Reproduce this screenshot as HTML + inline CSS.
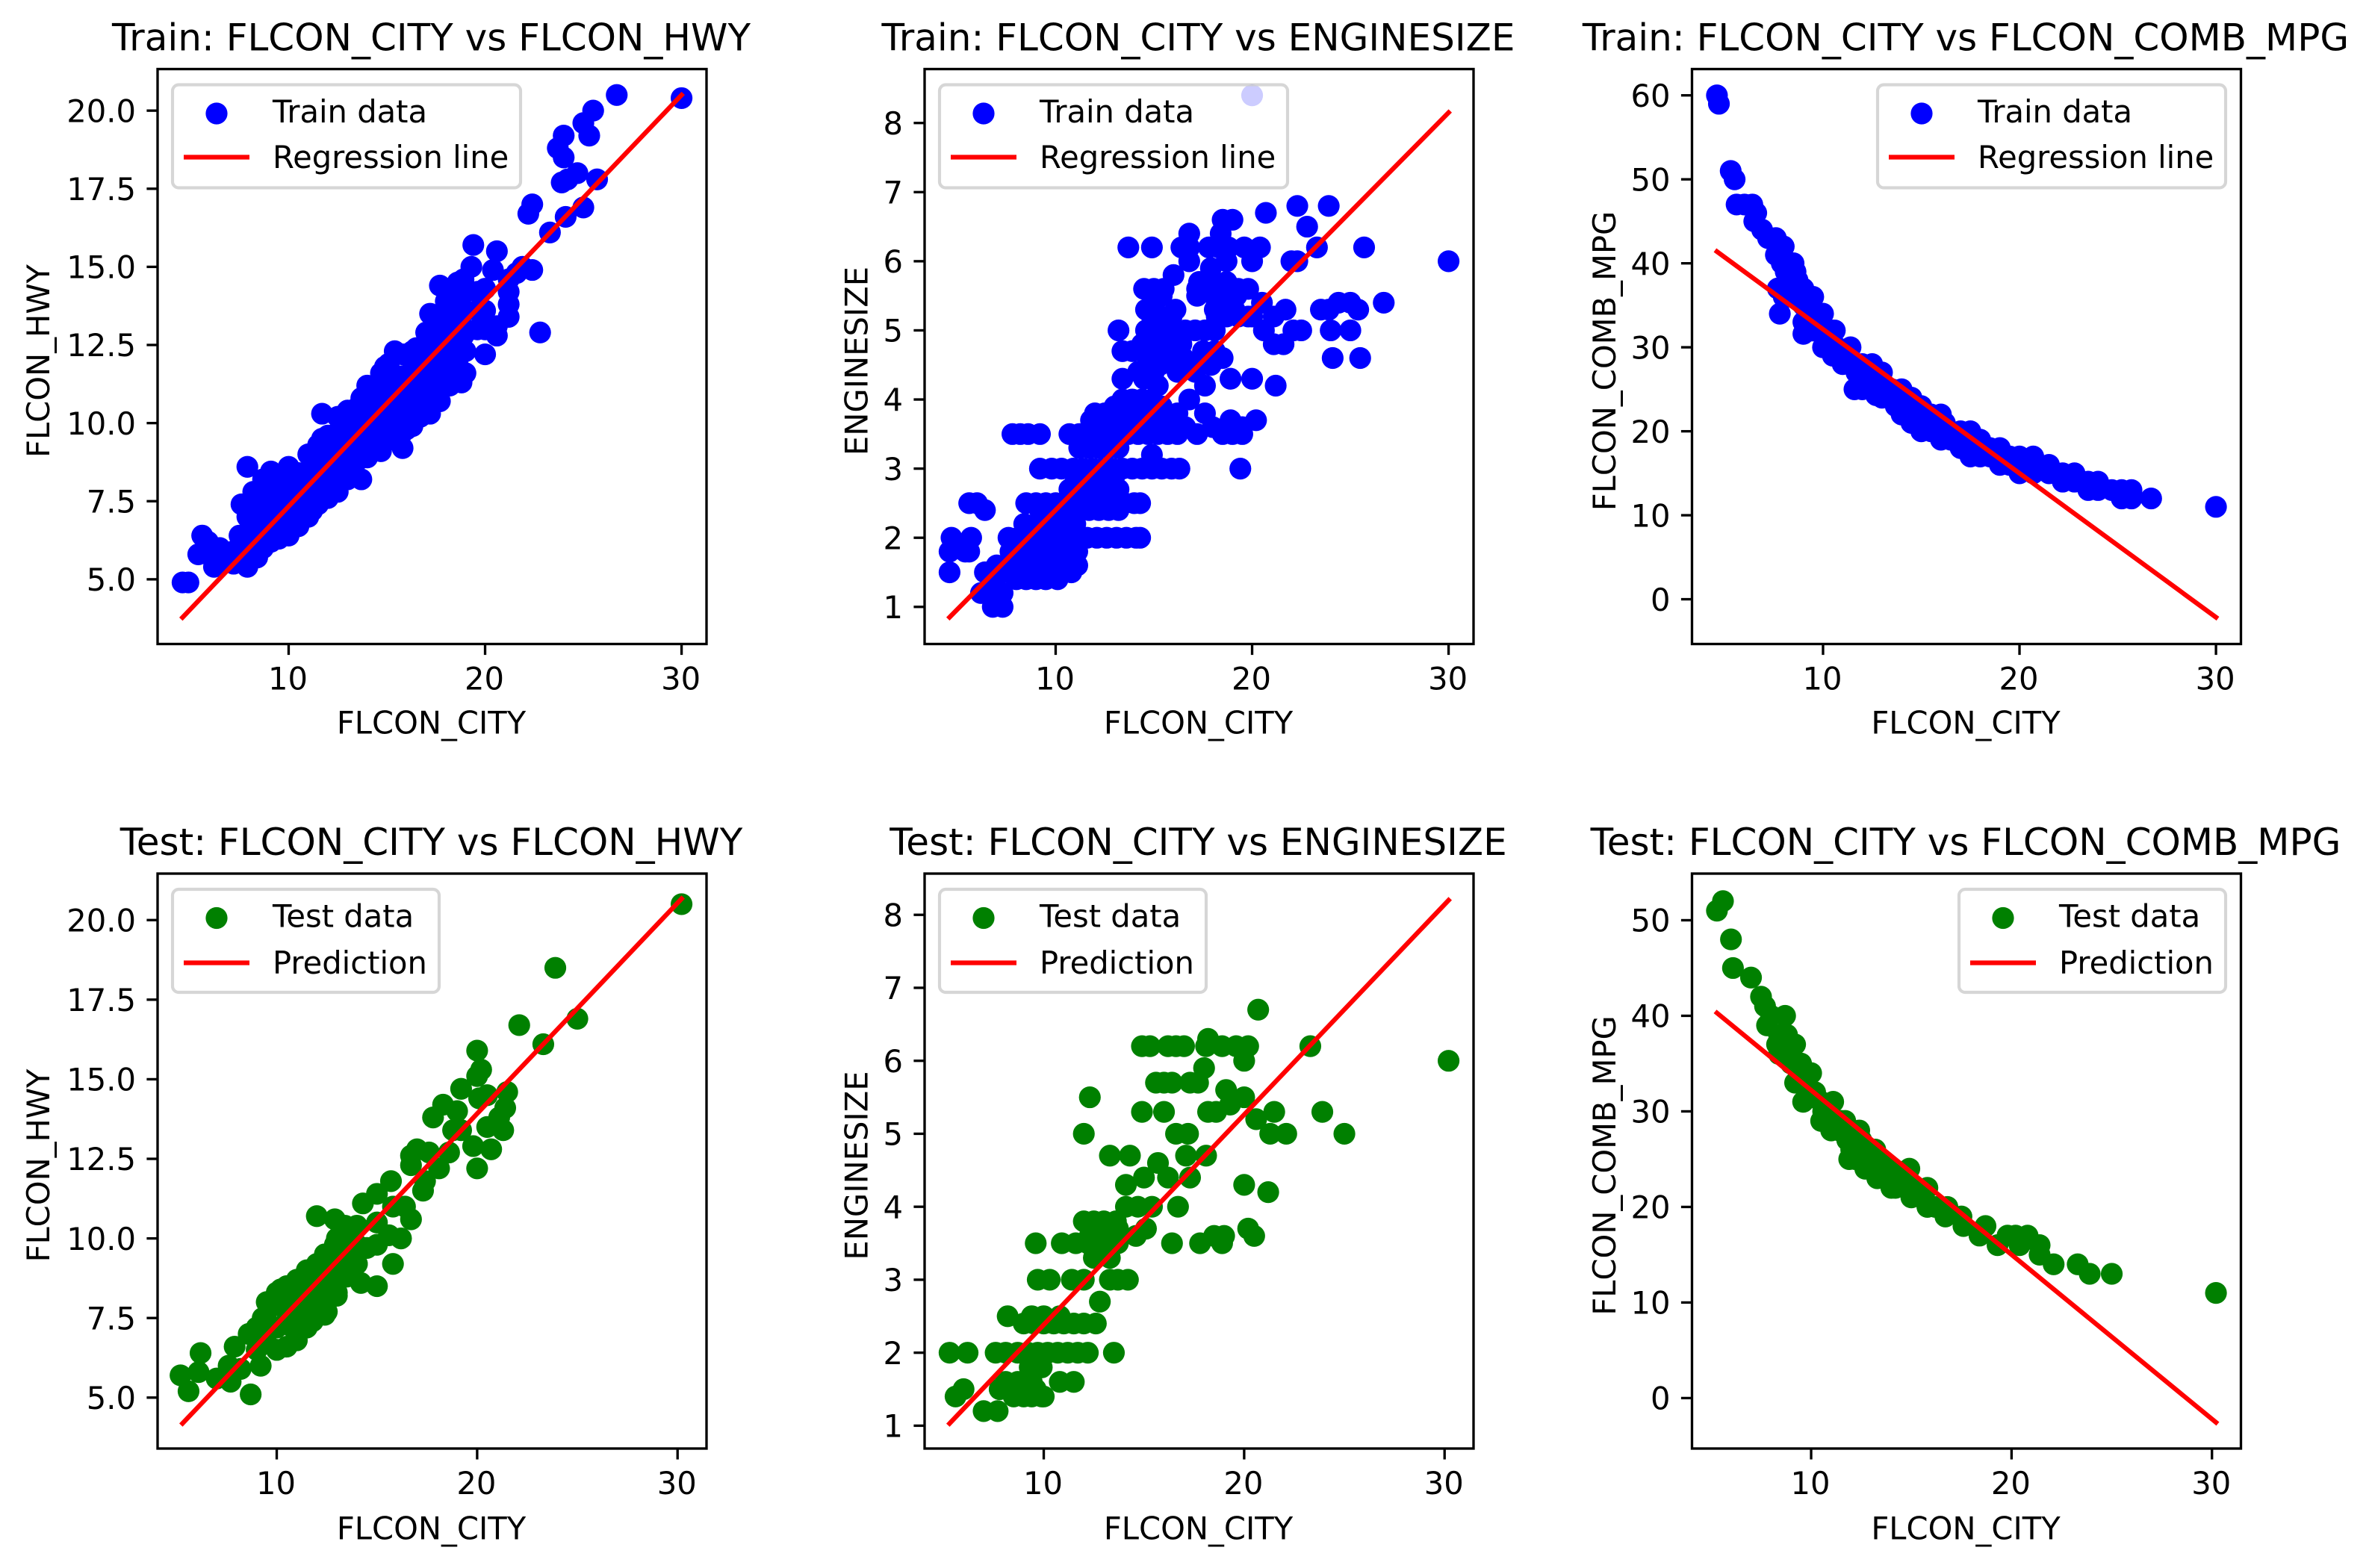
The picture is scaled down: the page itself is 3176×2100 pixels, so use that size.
<!DOCTYPE html>
<html lang="en">
<head>
<meta charset="utf-8">
<title>Regression charts: FLCON_CITY vs other features</title>
<style>
  html, body { margin: 0; padding: 0; background: #ffffff; }
  svg { display: block; font-family: "DejaVu Sans", "Liberation Sans", sans-serif; }
</style>
</head>
<body>
<svg id="figure" xmlns="http://www.w3.org/2000/svg" width="3176" height="2100" viewBox="0 0 3176 2100">
  <rect x="0" y="0" width="3176" height="2100" fill="#ffffff"></rect>
</svg>
<script>
/* ---------- axis domains and tick labels ---------- */
const trainCityLim = [3.33, 31.27];
const testCityLim = [4.055, 31.445];
const cityTicks = ['10', '20', '30'];

const trainHwyLim = [2.93, 21.33];
const trainEngineLim = [0.463, 8.78];
const trainMpgLim = [-5.33, 63.13];
const testHwyLim = [3.4, 21.46];
const testEngineLim = [0.687, 8.565];
const testMpgLim = [-5.28, 54.88];

const hwyTicks = ['5.0', '7.5', '10.0', '12.5', '15.0', '17.5', '20.0'];
const engineTicks = ['1', '2', '3', '4', '5', '6', '7', '8'];
const trainMpgTicks = ['0', '10', '20', '30', '40', '50', '60'];
const testMpgTicks = ['0', '10', '20', '30', '40', '50'];

/* ---------- regression lines ---------- */
const trainLineCity = [4.6, 30];
const testLineCity = [5.3, 30.2];
const trainHwyLine = [3.78, 20.5];
const trainEngineLine = [0.85, 8.15];
const trainMpgLine = [41.4, -2.15];
const testHwyLine = [4.19, 20.67];
const testEngineLine = [1.03, 8.2];
const testMpgLine = [40.3, -2.54];

/* ---------- train: FLCON_CITY vs FLCON_HWY ---------- */
const trainHwyCity = [
  4.6,4.9,5.4,5.6,5.9,5.9,6.5,6.2,6.8,
  7.2,7.2,7.6,7.5,7.5,7.9,7.9,7.9,7.9,
  8.4,8.4,8.4,8.4,8.7,8.7,8.7,8.7,9.1,9.1,9.1,9.1,
  9.5,9.5,9.5,9.5,10,10,10,10,10,
  10.5,10.5,10.5,10.5,11,11,11,11,
  11.5,11.5,11.5,11.5,12,12,12,12,11.7,
  12.5,12.5,12.5,12.5,12.5,13,13,13,13,13,13.7,13.5,13.5,13.5,
  14,14,14,14,14,14.7,14.7,14.7,14.7,14.7,
  15.1,15.1,15.1,15.1,15.1,15.8,15.8,15.8,15.8,15.8,15.8,
  16.3,16.3,16.3,16.3,16.3,16.7,16.7,16.7,16.7,
  17.2,17.2,17.2,17.2,17.2,17.2,17.7,17.7,17.7,17.7,17.7,17.7,
  18.2,18.2,18.2,18.2,18.2,18.6,18.6,18.6,18.6,18.6,
  18.8,19,19,19,19,19,19.3,19.4,19.6,19.6,19.6,
  20,20,20,20,20.4,20.6,20.6,20.6,21.2,21.2,21.2,21.2,21.6,
  21.9,22.4,22.8,22.2,22.4,23.3,23.9,24.2,24.7,24.1,25,25.7,
  24,23.7,24,25.3,25,25.5,26.7,30,
  8.2,8.2,8.2,8.9,8.9,8.9,9.3,9.3,9.3,9.8,9.8,9.8,
  10.2,10.2,10.2,10.8,10.8,10.8,11.2,11.2,11.2,11.7,11.7,11.7,
  12.2,12.2,12.2,12.7,12.7,12.7,13.2,13.2,13.2,13.7,13.7,13.7,
  14.3,14.3,14.3,14.9,14.9,14.9,15.4,15.4,15.4,16,16,16,
  16.5,16.5,16.5,17,17,17,17.5,17.5,17.5,18,18,18,
  18.4,18.4,18.4,18.9,18.9,18.9
];
const trainHwyValues = [
  4.9,4.9,5.8,6.4,6.2,5.8,6.0,5.4,5.6,
  5.5,5.9,7.4,5.6,6.4,5.4,6.2,7.0,8.6,
  5.7,6.5,7.1,7.6,6.0,6.9,7.6,8.2,6.2,6.9,7.5,8.45,
  6.3,7,7.6,8.2,6.4,7,7.6,8.2,8.6,
  6.7,7.2,7.8,8.4,7.0,7.6,8.3,9.0,
  7.4,8,8.6,9.3,7.6,8.2,8.9,9.6,10.3,
  7.8,8.4,9,9.7,10.2,8.2,8.7,9.3,9.9,10.4,8.2,8.8,9.6,10.5,
  8.9,9.5,10.1,10.7,11.2,9.1,9.7,10.3,10.9,11.6,
  9.5,10,10.6,11.3,11.9,9.2,9.7,10.3,10.9,11.5,12.2,
  9.9,10.5,11.1,11.7,12.3,10.2,10.9,11.5,12.1,
  10.3,11,11.6,12.2,12.8,13.5,10.7,11.3,11.9,12.5,13.2,14.4,
  11.2,11.8,12.4,13,13.6,12,12.6,13.2,13.8,14.5,
  11.3,11.6,12.3,13,13.6,14.2,15,15.7,13,13.6,14.2,
  12.2,13,13.6,14.3,14.9,12.8,13.1,15.5,13.4,13.8,14.2,14.6,14.8,
  15,14.9,12.9,16.7,17,16.1,17.7,17.8,18,16.6,16.9,17.8,
  18.5,18.8,19.2,19.2,19.6,20,20.5,20.4,
  6.6,7.2,7.8,6.4,7.2,7.9,6.6,7.3,7.9,6.6,7.3,8.0,
  6.8,7.5,8.4,7,7.6,8.4,7.2,7.9,8.8,7.6,8.4,9.5,
  8,8.7,9.4,8.2,9,9.8,8.5,9.2,10.1,8.9,9.6,10.8,
  9.3,10.2,11.1,9.4,10.5,11.8,9.6,10.8,12.3,9.8,11,12.2,
  10.3,11.3,12.4,10.5,11.5,12.9,10.9,12,13,11.4,12.2,13.9,
  11.5,12.8,14.1,11.6,12.8,14.6
];

/* ---------- train: FLCON_CITY vs ENGINESIZE ---------- */
const trainEngineCity = [
  6.8,7.3,
  6.2,7.3,
  6.9,
  8,8.5,9,9.5,10.1,
  4.6,6.4,7.3,7.8,8.3,8.8,9.3,9.8,
  7,7.6,8.1,8.6,9.1,9.6,10.1,10.6,11.1,
  4.6,5.4,5.6,7.7,8.2,8.7,9.2,9.7,10.2,10.7,11.1,
  8,9,10,
  4.7,5.7,7.6,8.1,8.6,9.1,9.6,10.1,10.6,11.1,11.6,12.1,12.6,13.1,13.6,14.1,14.3,
  8.4,9.5,
  6.4,9.2,9.7,10.2,10.7,11.2,11.7,12.2,12.7,13.2,
  5.6,6,8.5,9,9.5,10,10.5,11,11.5,12,12.5,13,13.5,14,14.3,
  10.7,11.2,11.7,12.2,12.7,13.2,
  9.2,9.8,10.3,10.9,11.4,11.9,12.4,12.9,13.4,13.9,14.4,14.9,15.4,15.9,16.3,19.4,
  14.9,
  11.2,11.7,12.2,12.7,13.2,
  7.8,8.2,8.6,9.2,10.7,11.2,11.7,12.2,12.7,13.2,13.7,14.2,14.7,15.2,15.7,16.2,17.2,18.5,19,19.5,
  16.6,18,19.5,
  11.8,12.3,12.8,13.3,15,18.9,20.2,
  12,12.5,13,13.5,14.5,16.2,17.6,
  13.4,13.9,14.4,14.9,16.8,
  15.2,17.6,21.2,
  13.4,14.5,18.9,20,
  14.2,14.7,15,16.2,17.1,
  15.5,16,16.5,17.6,18.5,24.1,25.5,
  13.4,13.9,14.4,15,15.5,16.1,17.5,18.1,
  21.1,21.6,
  13.2,14.6,15.1,15.6,16.1,16.6,17.1,17.6,18.1,20.6,22.1,22.5,24,25,
  20,21.1,
  14.6,16.1,18.1,18.6,19.1,21.7,23.5,23.9,25.4,
  15,18.2,20.5,24.4,25,26.7,
  15.4,17.2,18.4,
  14.5,15,15.5,17.2,17.7,18.7,19.3,19.8,
  17.3,18,18.7,
  16,
  17.9,
  16.8,18.7,20,22,22.3,30,
  13.7,14.9,16.4,16.8,17.8,18.3,18.8,19.6,20.4,23.3,25.7,
  16.8,18.4,
  22.8,
  18.5,19,
  20.7,
  22.3,23.9,
  20,
  7.8,8.3,8.8,9.3,9.8,10.3,10.8,
  10.3,10.8,
  9,10,10.5,11,
  11,11.5,12,12.5,13,
  13.8,14.3,15.5,15.9,
  13,14,14.7,15.4,
  14.4,14.9,15.4,15.9,16.4,
  14.8,15.3,17.4,17.9,
  14.9,15.4,15.9,18.2,18.7,19.3,19.8,
  18.8,19.2
];
const trainEngineValues = [
  1,1,
  1.2,1.2,
  1.3,
  1.4,1.4,1.4,1.4,1.4,
  1.5,1.5,1.5,1.5,1.5,1.5,1.5,1.5,
  1.6,1.6,1.6,1.6,1.6,1.6,1.6,1.6,1.6,
  1.8,1.8,1.8,1.8,1.8,1.8,1.8,1.8,1.8,1.8,1.8,
  1.9,1.9,1.9,
  2,2,2,2,2,2,2,2,2,2,2,2,2,2,2,2,2,
  2.2,2.2,
  2.4,2.4,2.4,2.4,2.4,2.4,2.4,2.4,2.4,2.4,
  2.5,2.5,2.5,2.5,2.5,2.5,2.5,2.5,2.5,2.5,2.5,2.5,2.5,2.5,2.5,
  2.7,2.7,2.7,2.7,2.7,2.7,
  3,3,3,3,3,3,3,3,3,3,3,3,3,3,3,3,
  3.2,
  3.3,3.3,3.3,3.3,3.3,
  3.5,3.5,3.5,3.5,3.5,3.5,3.5,3.5,3.5,3.5,3.5,3.5,3.5,3.5,3.5,3.5,3.5,3.5,3.5,3.5,
  3.6,3.6,3.6,
  3.7,3.7,3.7,3.7,3.7,3.7,3.7,
  3.8,3.8,3.8,3.8,3.8,3.8,3.8,
  4,4,4,4,4,
  4.2,4.2,4.2,
  4.3,4.3,4.3,4.3,
  4.4,4.4,4.4,4.4,4.4,
  4.6,4.6,4.6,4.6,4.6,4.6,4.6,
  4.7,4.7,4.7,4.7,4.7,4.7,4.7,4.7,
  4.8,4.8,
  5,5,5,5,5,5,5,5,5,5,5,5,5,5,
  5.2,5.2,
  5.3,5.3,5.3,5.3,5.3,5.3,5.3,5.3,5.3,
  5.4,5.4,5.4,5.4,5.4,5.4,
  5.5,5.5,5.5,
  5.6,5.6,5.6,5.6,5.6,5.6,5.6,5.6,
  5.7,5.7,5.7,
  5.8,
  5.9,
  6,6,6,6,6,6,
  6.2,6.2,6.2,6.2,6.2,6.2,6.2,6.2,6.2,6.2,6.2,
  6.4,6.4,
  6.5,
  6.6,6.6,
  6.7,
  6.8,6.8,
  8.4,
  1.7,1.7,1.7,1.7,1.7,1.7,1.7,
  1.5,1.5,
  2.2,2.2,2.2,2.2,
  2.9,2.9,2.9,2.9,2.9,
  3.7,3.7,3.7,3.7,
  3.9,3.9,3.9,3.9,
  4.8,4.8,4.8,4.8,4.8,
  4.5,4.5,4.5,4.5,
  5.2,5.2,5.2,5.2,5.2,5.2,5.2,
  5.5,5.5
];

/* ---------- train: FLCON_CITY vs FLCON_COMB_MPG ---------- */
const trainMpgCity = [
  4.6,4.7,5.3,5.5,5.6,6,6.4,6.6,6.5,6.9,7.2,7.6,8,7.6,8.5,8.6,7.7,7.8,
  7.9,8.1,8.3,8.2,8.4,8,8.5,
  9,9,9,9.5,9.5,9.5,10,10,10,10.5,10.5,10.5,10.6,11.4,11.6,
  12,12,12,12.5,12.5,12.5,13,13,13,13.5,
  14,14,14,14.5,14.5,14.5,15,15,15,15.5,15.5,15.5,
  16,16,16,16.5,16.5,17,17,17,17.5,17.5,17.5,
  18,18,18,18.5,18.5,19,19,19,19.5,19.5,
  20,20,20,20.7,20.7,20.7,21.5,21.5,22.2,22.2,22.8,22.8,
  23.5,23.5,24,24,24.7,25.2,25.2,25.7,25.7,26.7,30,
  8.7,9.2,9.7,10.2,10.7,11.2,11.7,12.2,12.7,13.2,13.7,14.2,14.7,15.2,15.7,16.2,
  9,9.4,11,12.7
];
const trainMpgValues = [
  60,59,51,50,47,47,47,46,45,44,43,43,42,41,40,39,37,34,
  40,39,38,37,36,36,37,
  35,33,37,36,34,32,34,32,30,32,30,29,32,30,25,
  28,27,25,28,26,25,27,25,24,25,
  25,23,22,24,22,21,23,21,20,22,21,20,
  22,20,19,20,19,20,19,18,20,18,17,
  19,18,17,18,17,18,17,16,17,16,
  17,16,15,17,16,15,16,15,15,14,15,14,
  14,13,14,13,13,13,12,13,12,12,11,
  38,36,33,31,30,29,27,26,27,25,23,24,22,22,20,21,
  31.6,32,28,24.3
];

/* ---------- test: FLCON_CITY vs FLCON_HWY ---------- */
const testHwyCity = [
  5.2,5.6,6.1,6.2,7,7.7,8.7,7.6,8.2,7.9,8.6,9.2,9.3,9.6,10.2,10.5,11.3,10,11,11.4,12.4,13,
  12,12,12.4,12.9,14.2,15,15.8,12,12.9,13.4,13.3,14.3,15,15,15.7,15.8,16.4,16.7,17.3,17.4,
  15.6,16.2,15,14.5,14,16.7,16.7,17,17.6,18.1,18.6,19.8,20,20.7,18.8,19.2,17.8,18.3,19,19.2,
  20,20,20.2,20.1,20.5,20.5,21.3,21.1,21.4,21.5,22.1,23.3,23.9,25,30.2,
  9,9,9.5,9.5,9.5,10,10,10,10,10.5,10.5,10.5,10.5,11,11,11,11,
  11.5,11.5,11.5,11.5,12,12,12,12,12.5,12.5,12.5,12.5,13,13,13,13,13.5,13.5,13.5,14,14,14,
  10.8,11.2,11.8,12.2,12.8,13.2
];
const testHwyValues = [
  5.7,5.2,5.8,6.4,5.6,5.5,5.1,6,5.9,6.6,7,6,7.5,7.9,8.4,8.5,8.7,6.5,6.8,7.2,7.6,8.2,
  8.9,9.1,9.5,9.8,8.6,8.5,9.2,10.7,10.6,10.4,10.1,11.1,11.4,10.5,11.8,11,11,10.6,11.5,11.8,
  10.1,10,9.8,9.7,9.2,12.3,12.6,12.8,12.7,12.2,12.7,12.9,12.2,12.8,13.4,13.4,13.8,14.2,14,14.7,
  15.9,15.1,15.3,14.4,14.5,13.5,13.4,13.8,14.1,14.6,16.7,16.1,18.5,16.9,20.5,
  6.5,7.2,6.7,7.4,8,6.5,7.2,7.9,8.3,6.6,7.4,8,8.5,6.8,7.6,8.2,8.7,
  7.2,7.9,8.5,9,7.6,8.2,8.8,9.2,7.7,8.4,9,9.5,8.3,8.9,9.5,10,8.8,9.4,10,9.2,9.8,10.4,
  7.2,7.6,7.4,7.9,8.4,9.2
];

/* ---------- test: FLCON_CITY vs ENGINESIZE ---------- */
const testEngineCity = [
  7,7.7,
  5.6,8.5,9,9.4,9.9,10,
  6,7.8,8.2,8.7,9.2,9.6,
  10.8,11.5,8.1,8.7,9.4,
  9.3,9.9,
  5.3,6.2,7.6,8.1,8.7,9.2,9.7,10.2,10.7,11.2,11.7,12.2,13.5,
  9,9.5,10,10.5,11,11.5,12,12.6,
  8.2,9.4,10,10.8,
  12.8,
  9.7,10.3,11.4,12,13.3,13.7,14.2,
  13.3,12.5,
  9.6,10.9,11.6,12.2,12.7,13.7,16.4,17.8,18.9,
  12.3,12.8,13.2,14.6,18.5,19,20.5,
  12.9,13.7,15.1,20.2,
  12,12.5,13,13.6,
  14.1,14.7,15.4,16.7,
  21.2,
  14.1,20,
  15,16.2,17.3,
  15.7,
  13.3,14.3,17.1,18.1,
  12,16.6,17.2,21.3,22.1,25,
  20.6,
  14.9,16,18.2,18.6,21.5,23.9,
  19.3,
  12.3,20,
  19.1,
  15.6,16,16.4,17.3,17.7,
  18,
  20,30.2,
  14.9,15.3,16.2,16.6,17,18.1,18.9,19.6,20.2,23.3,
  18.2,
  20.7
];
const testEngineValues = [
  1.2,1.2,
  1.4,1.4,1.4,1.4,1.4,1.4,
  1.5,1.5,1.5,1.5,1.5,1.5,
  1.6,1.6,1.6,1.6,1.6,
  1.8,1.8,
  2,2,2,2,2,2,2,2,2,2,2,2,2,
  2.4,2.4,2.4,2.4,2.4,2.4,2.4,2.4,
  2.5,2.5,2.5,2.5,
  2.7,
  3,3,3,3,3,3,3,
  3.3,3.3,
  3.5,3.5,3.5,3.5,3.5,3.5,3.5,3.5,3.5,
  3.6,3.6,3.6,3.6,3.6,3.6,3.6,
  3.7,3.7,3.7,3.7,
  3.8,3.8,3.8,3.8,
  4,4,4,4,
  4.2,
  4.3,4.3,
  4.4,4.4,4.4,
  4.6,
  4.7,4.7,4.7,4.7,
  5,5,5,5,5,5,
  5.2,
  5.3,5.3,5.3,5.3,5.3,5.3,
  5.4,
  5.5,5.5,
  5.6,
  5.7,5.7,5.7,5.7,5.7,
  5.9,
  6,6,
  6.2,6.2,6.2,6.2,6.2,6.2,6.2,6.2,6.2,6.2,
  6.3,
  6.7
];

/* ---------- test: FLCON_CITY vs FLCON_COMB_MPG ---------- */
const testMpgCity = [
  5.3,5.6,6,6.1,7,7.5,7.7,7.8,8.7,8,8.4,9.2,8.3,8.4,9.5,9.2,10,9.6,10.2,10.5,11.1,10.6,
  11.7,12.4,11.4,11.9,11.8,13.2,12.7,13.3,14.2,14.9,15,15.8,15.8,16.8,16.7,17.5,17.6,18.7,18.4,
  19.3,19.8,20.2,20.8,20.4,21.4,21.4,22.1,23.3,23.9,25,30.2,
  13,13.5,12.5,12,14,14.5,14,15.2,15.5,16.2,13,12.2,13.5,14,9,9.5,10,10.5,11,11.5,12,9,8.8,
  10.8,11,12.3
];
const testMpgValues = [
  51,52,48,45,44,42,41,39,40,40,38,37,37,36,35,33,34,31,32,29,31,30,
  29,28,28,25,27,26,24,23,22,24,21,20,22,20,19,19,18,18,17,
  16,17,17,17,16,16,15,14,14,13,13,11,
  25,25,27,26,24,23,22,22,21,20,24,25,24,23,35,33,32,31,29,29,28,36,38,
  30,28,26
];

/* ---------- drawing helpers ---------- */
const SVG_NS = 'http://www.w3.org/2000/svg';
const figure = document.getElementById('figure');

function makeNode(tag, parent, name, interactable) {
  const el = document.createElementNS(SVG_NS, tag);
  
  
  parent.appendChild(el);
  return el;
}

function setAll(el, props) {
  Object.keys(props).forEach(function (k) { el.setAttribute(k, props[k]); });
  return el;
}

function makeText(parent, name, content, props) {
  const el = makeNode('text', parent, name, false);
  setAll(el, props);
  el.textContent = content;
  return el;
}

const SPINE_W = 3.33;
const TICK_LEN = 14.6;
const MARK_R = 14.6;
const LINE_W = 6.25;
const TICK_FONT = 41.67;
const TITLE_FONT = 50;
const AXES_W = 735;
const AXES_H = 770;

function drawPanel(p) {
  const g = makeNode('g', figure, p.key + '-panel', false);
  const xScale = function (v) { return p.left + (v - p.xLim[0]) / (p.xLim[1] - p.xLim[0]) * AXES_W; };
  const yScale = function (v) { return p.top + AXES_H - (v - p.yLim[0]) / (p.yLim[1] - p.yLim[0]) * AXES_H; };
  const bottom = p.top + AXES_H;
  const midX = p.left + AXES_W / 2;
  const midY = p.top + AXES_H / 2;

  /* points */
  const pointsGroup = makeNode('g', g, p.key + '-points', false);
  const count = Math.min(p.xs.length, p.ys.length);
  for (let i = 0; i < count; i++) {
    const c = makeNode('circle', pointsGroup, p.key + '-point', false);
    setAll(c, { cx: xScale(p.xs[i]), cy: yScale(p.ys[i]), r: MARK_R, fill: p.color });
  }

  /* fit line */
  const fit = makeNode('line', g, p.key + '-fit-line', false);
  setAll(fit, {
    x1: xScale(p.lineX[0]), y1: yScale(p.lineY[0]),
    x2: xScale(p.lineX[1]), y2: yScale(p.lineY[1]),
    stroke: '#ff0000', 'stroke-width': LINE_W, 'stroke-linecap': 'square'
  });

  /* x ticks */
  p.xTicks.forEach(function (label) {
    const x = xScale(Number(label));
    const t = makeNode('line', g, p.key + '-x-tick', false);
    setAll(t, { x1: x, x2: x, y1: bottom, y2: bottom + TICK_LEN, stroke: '#000', 'stroke-width': SPINE_W });
    makeText(g, p.key + '-x-tick-label', label, {
      x: x - 1, y: bottom + 61, 'text-anchor': 'middle', 'font-size': TICK_FONT, fill: '#000'
    });
  });

  /* y ticks */
  p.yTicks.forEach(function (label) {
    const y = yScale(Number(label));
    const t = makeNode('line', g, p.key + '-y-tick', false);
    setAll(t, { x1: p.left, x2: p.left - TICK_LEN, y1: y, y2: y, stroke: '#000', 'stroke-width': SPINE_W });
    makeText(g, p.key + '-y-tick-label', label, {
      x: p.left - 29, y: y + 15.2, 'text-anchor': 'end', 'font-size': TICK_FONT, fill: '#000'
    });
  });

  /* labels */
  makeText(g, p.key + '-title', p.title, {
    x: midX - 1, y: p.top - 25, 'text-anchor': 'middle', 'font-size': TITLE_FONT, fill: '#000'
  });
  makeText(g, p.key + '-x-axis-title', 'FLCON_CITY', {
    x: midX - 1, y: bottom + p.xLabelGap, 'text-anchor': 'middle', 'font-size': TICK_FONT, fill: '#000'
  });
  const yLabelY = midY + 6;
  makeText(g, p.key + '-y-axis-title', p.yLabel, {
    x: p.yLabelX, y: yLabelY, 'text-anchor': 'middle', 'font-size': TICK_FONT, fill: '#000',
    transform: 'rotate(-90 ' + p.yLabelX + ' ' + yLabelY + ')'
  });

  /* legend */
  const lg = makeNode('g', g, p.key + '-legend', false);
  const box = makeNode('rect', lg, p.key + '-legend-box', false);
  setAll(box, {
    x: p.legendLeft, y: p.top + 21, width: p.legendWidth, height: 138, rx: 8.3, ry: 8.3,
    fill: '#ffffff', 'fill-opacity': 0.8, stroke: '#cccccc', 'stroke-opacity': 0.8, 'stroke-width': 4.17
  });
  const dot = makeNode('circle', lg, p.key + '-legend-marker', false);
  setAll(dot, { cx: p.legendLeft + 59, cy: p.top + 59.5, r: MARK_R, fill: p.color });
  const swatch = makeNode('line', lg, p.key + '-legend-line', false);
  setAll(swatch, {
    x1: p.legendLeft + 15, x2: p.legendLeft + 103, y1: p.top + p.legendLineY, y2: p.top + p.legendLineY,
    stroke: '#ff0000', 'stroke-width': LINE_W
  });
  makeText(lg, p.key + '-legend-points-label', p.pointsLabel, {
    x: p.legendLeft + 134, y: p.top + 71.5, 'font-size': TICK_FONT, fill: '#000'
  });
  makeText(lg, p.key + '-legend-line-label', p.lineLabel, {
    x: p.legendLeft + 134, y: p.top + p.legendLineY + 14.5, 'font-size': TICK_FONT, fill: '#000'
  });

  /* spines */
  const frame = makeNode('rect', g, p.key + '-axes-frame', false);
  setAll(frame, { x: p.left, y: p.top, width: AXES_W, height: AXES_H, fill: 'none', stroke: '#000', 'stroke-width': SPINE_W });
}

/* ---------- panels ---------- */
drawPanel({
  key: 'train-hwy', left: 211, top: 92.5, color: '#0000ff', xLabelGap: 120, legendLineY: 118,
  xLim: trainCityLim, yLim: trainHwyLim, xTicks: cityTicks, yTicks: hwyTicks,
  xs: trainHwyCity, ys: trainHwyValues, lineX: trainLineCity, lineY: trainHwyLine,
  title: 'Train: FLCON_CITY vs FLCON_HWY', yLabel: 'FLCON_HWY', yLabelX: 66,
  legendLeft: 231, legendWidth: 466, pointsLabel: 'Train data', lineLabel: 'Regression line'
});
drawPanel({
  key: 'train-engine', left: 1238, top: 92.5, color: '#0000ff', xLabelGap: 120, legendLineY: 118,
  xLim: trainCityLim, yLim: trainEngineLim, xTicks: cityTicks, yTicks: engineTicks,
  xs: trainEngineCity, ys: trainEngineValues, lineX: trainLineCity, lineY: trainEngineLine,
  title: 'Train: FLCON_CITY vs ENGINESIZE', yLabel: 'ENGINESIZE', yLabelX: 1161.5,
  legendLeft: 1258, legendWidth: 466, pointsLabel: 'Train data', lineLabel: 'Regression line'
});
drawPanel({
  key: 'train-mpg', left: 2265.5, top: 92.5, color: '#0000ff', xLabelGap: 120, legendLineY: 118,
  xLim: trainCityLim, yLim: trainMpgLim, xTicks: cityTicks, yTicks: trainMpgTicks,
  xs: trainMpgCity, ys: trainMpgValues, lineX: trainLineCity, lineY: trainMpgLine,
  title: 'Train: FLCON_CITY vs FLCON_COMB_MPG', yLabel: 'FLCON_COMB_MPG', yLabelX: 2163,
  legendLeft: 2514, legendWidth: 466, pointsLabel: 'Train data', lineLabel: 'Regression line'
});
drawPanel({
  key: 'test-hwy', left: 211, top: 1170, color: '#008000', xLabelGap: 121.5, legendLineY: 119.5,
  xLim: testCityLim, yLim: testHwyLim, xTicks: cityTicks, yTicks: hwyTicks,
  xs: testHwyCity, ys: testHwyValues, lineX: testLineCity, lineY: testHwyLine,
  title: 'Test: FLCON_CITY vs FLCON_HWY', yLabel: 'FLCON_HWY', yLabelX: 66,
  legendLeft: 231, legendWidth: 357, pointsLabel: 'Test data', lineLabel: 'Prediction'
});
drawPanel({
  key: 'test-engine', left: 1238, top: 1170, color: '#008000', xLabelGap: 121.5, legendLineY: 119.5,
  xLim: testCityLim, yLim: testEngineLim, xTicks: cityTicks, yTicks: engineTicks,
  xs: testEngineCity, ys: testEngineValues, lineX: testLineCity, lineY: testEngineLine,
  title: 'Test: FLCON_CITY vs ENGINESIZE', yLabel: 'ENGINESIZE', yLabelX: 1161.5,
  legendLeft: 1258, legendWidth: 357, pointsLabel: 'Test data', lineLabel: 'Prediction'
});
drawPanel({
  key: 'test-mpg', left: 2265.5, top: 1170, color: '#008000', xLabelGap: 121.5, legendLineY: 119.5,
  xLim: testCityLim, yLim: testMpgLim, xTicks: cityTicks, yTicks: testMpgTicks,
  xs: testMpgCity, ys: testMpgValues, lineX: testLineCity, lineY: testMpgLine,
  title: 'Test: FLCON_CITY vs FLCON_COMB_MPG', yLabel: 'FLCON_COMB_MPG', yLabelX: 2163,
  legendLeft: 2623, legendWidth: 357, pointsLabel: 'Test data', lineLabel: 'Prediction'
});
</script>
</body>
</html>
